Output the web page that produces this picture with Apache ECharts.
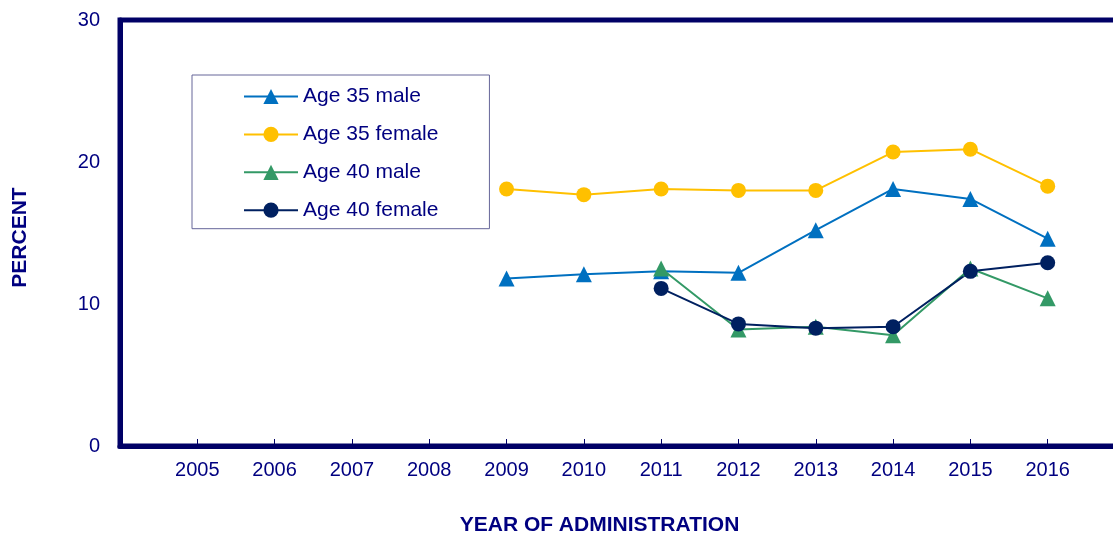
<!DOCTYPE html>
<html>
<head>
	<meta charset="UTF-8">
	<title></title>
	<style>
		html, body { margin: 0; padding: 0; background: #fff; }
		#chart { width: 1113px; height: 535px; }
	</style>
	<script src="https://cdn.jsdelivr.net/npm/echarts@6/dist/echarts.min.js"></script>
</head>
<body>
	<div id="chart"></div>
	<script>
		// years on the x axis; an empty slot on each side keeps the 2005 label off the y axis
		var years = ['2005', '2006', '2007', '2008', '2009', '2010', '2011', '2012', '2013', '2014', '2015', '2016'];
		var male35 = [null, null, null, null, 11.8, 12.1, 12.3, 12.2, 15.2, 18.1, 17.4, 14.6];
		var female35 = [null, null, null, null, 18.1, 17.7, 18.1, 18.0, 18.0, 20.7, 20.9, 18.3];
		var male40 = [null, null, null, null, null, null, 12.5, 8.2, 8.4, 7.8, 12.5, 10.4];
		var female40 = [null, null, null, null, null, null, 11.1, 8.6, 8.3, 8.4, 12.3, 12.9];
		var yTicks = [0, 10, 20, 30];

		var navy = '#000080';
		var font = 'Liberation Sans, Arial, sans-serif';

		function pad(arr) { return [null].concat(arr); }

		function line(name, data, color, symbol, size) {
			return {
				name: name,
				type: 'line',
				data: pad(data),
				symbol: symbol,
				symbolSize: size,
				showSymbol: true,
				connectNulls: false,
				lineStyle: { color: color, width: 2 },
				itemStyle: { color: color },
				emphasis: { disabled: true }
			};
		}

		var chart = echarts.init(document.getElementById('chart'));
		chart.setOption({
			animation: false,
			textStyle: { fontFamily: font, color: navy },
			grid: {
				left: 120, top: 20, bottom: 89, width: 1005,
				outerBoundsMode: 'none',
				show: true, borderColor: '#000066', borderWidth: 5
			},
			legend: {
				orient: 'vertical',
				left: 192, top: 75,
				padding: [11, 51, 8, 51],
				itemWidth: 54, itemHeight: 19, itemGap: 16.9,
				borderColor: '#666699', borderWidth: 1,
				textStyle: { fontSize: 21, color: navy, fontFamily: font, lineHeight: 19 },
				data: ['Age 35 male', 'Age 35 female', 'Age 40 male', 'Age 40 female']
			},
			xAxis: {
				type: 'category',
				boundaryGap: false,
				data: [''].concat(years).concat(['']),
				axisLine: { lineStyle: { color: '#000066', width: 5 } },
				axisTick: { inside: true, length: 7, lineStyle: { color: '#000066', width: 1 } },
				axisLabel: { fontSize: 20, color: navy, margin: 14 },
				name: 'YEAR OF ADMINISTRATION',
				nameLocation: 'middle',
				nameGap: 69,
				nameTextStyle: { fontSize: 21, fontWeight: 'bold', color: navy, padding: [0, 46, 0, 0] }
			},
			yAxis: {
				type: 'value',
				min: yTicks[0], max: yTicks[yTicks.length - 1], interval: 10,
				axisLine: { show: true, lineStyle: { color: '#000066', width: 5 } },
				axisTick: { show: false },
				splitLine: { show: false },
				axisLabel: { fontSize: 20, color: navy, margin: 20 },
				name: 'PERCENT',
				nameLocation: 'middle',
				nameRotate: 90,
				nameGap: 89,
				nameTextStyle: { fontSize: 21, fontWeight: 'bold', color: navy, padding: [0, 9, 0, 0] }
			},
			series: [
				line('Age 35 male', male35, '#0070C0', 'triangle', 16),
				line('Age 35 female', female35, '#FFC000', 'circle', 15),
				line('Age 40 male', male40, '#339966', 'triangle', 16),
				line('Age 40 female', female40, '#002060', 'circle', 15)
			]
		});
	</script>
</body>
</html>
